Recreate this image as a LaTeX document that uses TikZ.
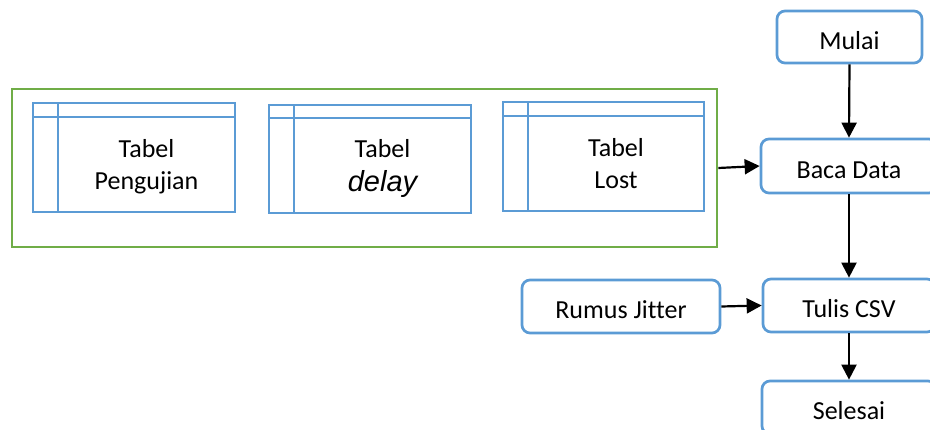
\documentclass[tikz,border=0pt]{standalone}
\usepackage{fontspec}
\setmainfont{Carlito}[Ligatures={NoCommon}]
\newfontfamily\arialfont{Liberation Sans}
\usetikzlibrary{arrows.meta}
\definecolor{boxblue}{HTML}{5B9BD5}
\definecolor{framegreen}{HTML}{70AD47}
\tikzset{
  flowbox/.style={draw=boxblue, line width=2.7pt, rounded corners=8pt, inner sep=0pt,
    font=\fontsize{26}{32}\selectfont, text height=28.6pt, text depth=3.9pt},
  tablebox/.style={draw=boxblue, line width=2.7pt, inner sep=0pt},
  tableline/.style={draw=boxblue, line width=2.7pt},
  tabletext/.style={inner sep=0pt, align=center, anchor=north, font=\fontsize{26}{32}\selectfont},
  greenframe/.style={draw=framegreen, line width=2.7pt, inner sep=0pt},
  flowarrow/.style={line width=2.2pt, -{Triangle[length=15pt,width=15pt]}}
}
\begin{document}
\begin{tikzpicture}[x=1pt,y=-1pt]
\useasboundingbox (0,0) rectangle (930,430);
\clip (0,0) rectangle (930,430);
% green frame
\node[greenframe, minimum width=705pt, minimum height=158pt] (frame) at (364.5,168) {};
% tables
\node[tablebox, minimum width=202pt, minimum height=109pt] (t1) at (134,157.5) {};
\draw[tableline] (33,117) -- (235,117);
\draw[tableline] (58,103) -- (58,212);
\node[tabletext] (t1text) at (146.5,139) {Tabel\\Pengujian};
\node[tablebox, minimum width=202pt, minimum height=108pt] (t2) at (370,159) {};
\draw[tableline] (269,118) -- (471,118);
\draw[tableline] (294,105) -- (294,213);
\node[tabletext] (t2text) at (382.5,139) {Tabel\\[2pt]{\fontsize{29}{34}\arialfont\itshape delay}};
\node[tablebox, minimum width=201pt, minimum height=109pt] (t3) at (603.5,156.5) {};
\draw[tableline] (503,116) -- (704,116);
\draw[tableline] (528,102) -- (528,211);
\node[tabletext] (t3text) at (616,138) {Tabel\\Lost};
% flow boxes
\node[flowbox, minimum width=145pt, minimum height=52pt] (mulai) at (849.5,37) {Mulai};
\node[flowbox, minimum width=176pt, minimum height=54pt] (baca) at (849,166) {Baca Data};
\node[flowbox, minimum width=172pt, minimum height=53pt] (tulis) at (849,305.5) {Tulis CSV};
\node[flowbox, minimum width=174pt, minimum height=53pt] (selesai) at (849,407.5) {Selesai};
\node[flowbox, minimum width=198pt, minimum height=53pt] (rumus) at (621,306.5) {Rumus Jitter};
% arrows
\draw[flowarrow] (mulai.south) -- (baca.north);
\draw[flowarrow] (baca.south) -- (tulis.north);
\draw[flowarrow] (tulis.south) -- (selesai.north);
\draw[flowarrow] (frame.east) -- (baca.west);
\draw[flowarrow] (rumus.east) -- (tulis.west);
\end{tikzpicture}
\end{document}
